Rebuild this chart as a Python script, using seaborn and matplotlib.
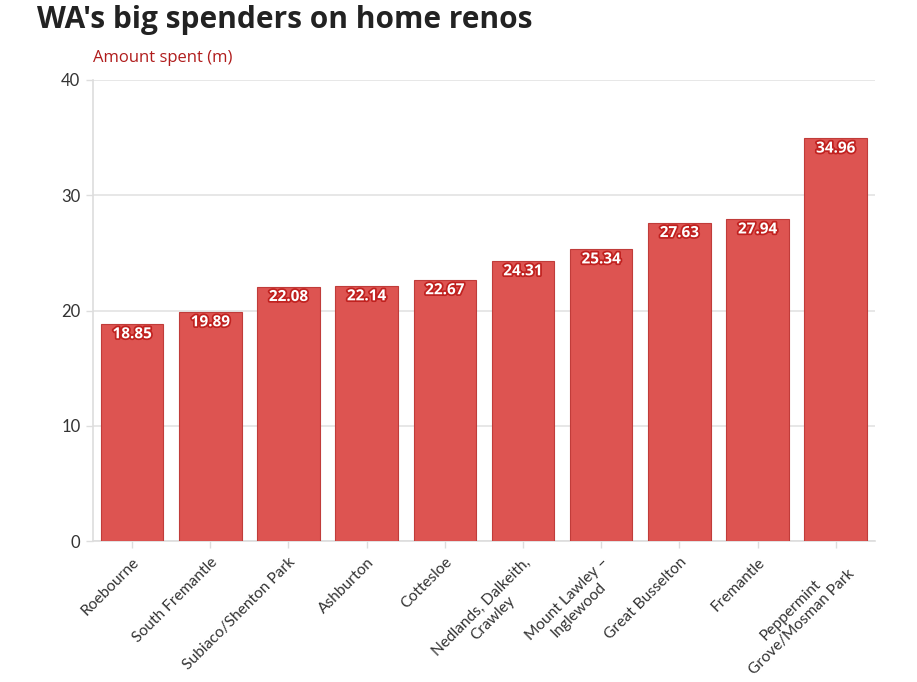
import seaborn as sns
import matplotlib.pyplot as plt
import matplotlib.patheffects as pe
import pandas as pd

suburbs = [
    "Roebourne",
    "South Fremantle",
    "Subiaco/Shenton Park",
    "Ashburton",
    "Cottesloe",
    "Nedlands, Dalkeith,\nCrawley",
    "Mount Lawley \u2013\nInglewood",
    "Great Busselton",
    "Fremantle",
    "Peppermint\nGrove/Mosman Park",
]
amount_spent = [18.85, 19.89, 22.08, 22.14, 22.67, 24.31, 25.34, 27.63, 27.94, 34.96]
y_ticks = [0, 10, 20, 30, 40]

sns.set_theme(style="white")
plt.rcParams['font.family'] = ['Open Sans', 'DejaVu Sans']

df = pd.DataFrame({"Suburb": suburbs, "Amount": amount_spent})

fig = plt.figure(figsize=(9.17, 6.82), dpi=100)
ax = fig.add_axes([0.1014, 0.2067, 0.8526, 0.676])

sns.barplot(data=df, x="Suburb", y="Amount", color="#dd5451", saturation=1,
            width=0.8, edgecolor="#c03c3a", linewidth=0.8, ax=ax, zorder=3)

ax.set_ylim(0, 40)
ax.set_yticks(y_ticks)
ax.yaxis.grid(True, color="#e3e3e3", linewidth=1.2, zorder=0)
ax.set_axisbelow(True)
ax.set_xlabel("")
ax.set_ylabel("")
for s in ["top", "right"]:
    ax.spines[s].set_visible(False)
for s in ["left", "bottom"]:
    ax.spines[s].set_color("#dddddd")
    ax.spines[s].set_linewidth(1.2)

ax.tick_params(axis="y", labelsize=12, colors="#dddddd", labelcolor="#333333",
               length=5, width=1, pad=4, left=True)
ax.tick_params(axis="x", labelsize=11.2, colors="#dddddd", labelcolor="#333333",
               length=5, width=1, pad=5, bottom=True)
plt.setp(ax.get_xticklabels(), rotation=45, ha="right", va="top",
         rotation_mode="anchor", multialignment="center",
         family=["Lato", "DejaVu Sans"])
plt.setp(ax.get_yticklabels(), family=["Lato", "DejaVu Sans"])

# value labels inside the bar tops
for i, v in enumerate(amount_spent):
    ax.text(i, v - 0.3, f"{v:.2f}", ha="center", va="top", fontsize=11,
            fontweight="bold", color="white", zorder=5,
            path_effects=[pe.withStroke(linewidth=2.5, foreground="#c0211f")])

fig.text(0.040, 0.992, "WA's big spenders on home renos", fontsize=21.5,
         fontweight="bold", color="#222222", ha="left", va="top")
fig.text(0.1014, 0.915, "Amount spent (m)", fontsize=12, color="#b01c1c",
         ha="left", va="center")

fig.savefig("out.png", dpi=100)
